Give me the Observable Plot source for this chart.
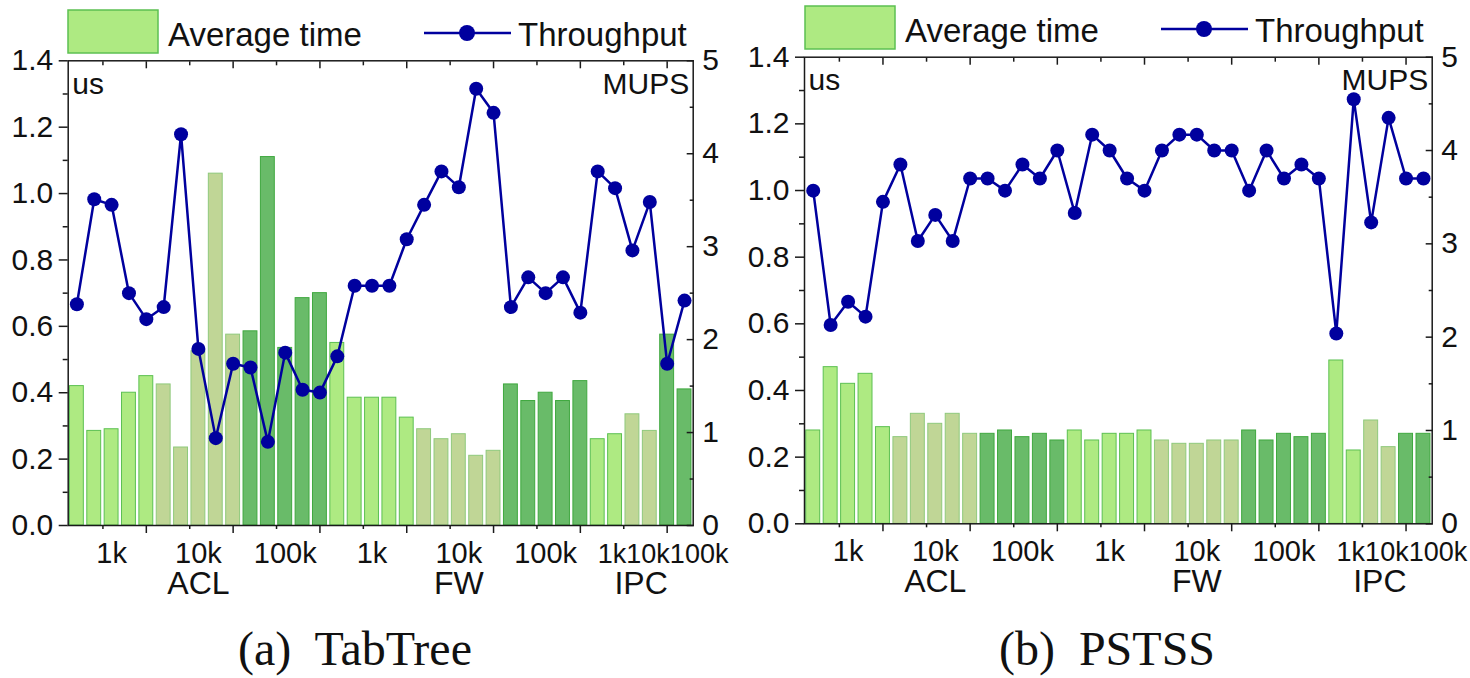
<!DOCTYPE html>
<html>
<head>
<meta charset="utf-8">
<script src="https://cdn.jsdelivr.net/npm/d3@7"></script>
<script src="https://cdn.jsdelivr.net/npm/@observablehq/plot@0.6"></script>
<style>
  body { margin: 0; background: #fff; }
  #wrap { position: relative; width: 1470px; height: 678px; overflow: hidden; background: #fff; }
  .chart { position: absolute; top: 0; }
  #overlay { position: absolute; left: 0; top: 0; pointer-events: none; }
</style>
</head>
<body>
<div id="wrap"></div>
<script>
// ---------- data ----------
const workloads = ["ACL", "FW", "IPC"];
const sizes = ["1k", "10k", "100k"];
const runsPerSize = [5, 5, 2]; // bars per size, per workload

const legendLabels = ["Average time", "Throughput"];
const unitLeft = "us";
const unitRight = "MUPS";
const captions = ["(a)  TabTree", "(b)  PSTSS"];

const timeTicks = [0, 0.2, 0.4, 0.6, 0.8, 1.0, 1.2, 1.4];
const thrTicks = [0, 1, 2, 3, 4, 5];

const tabtreeAvgTime = [0.42, 0.285, 0.29, 0.40, 0.45, 0.425, 0.235, 0.525, 1.06, 0.575,
  0.585, 1.11, 0.535, 0.685, 0.70, 0.55, 0.385, 0.385, 0.385, 0.325,
  0.29, 0.26, 0.275, 0.21, 0.225, 0.425, 0.375, 0.40, 0.375, 0.435,
  0.26, 0.275, 0.335, 0.285, 0.575, 0.41];
const tabtreeThroughput = [2.38, 3.51, 3.45, 2.50, 2.22, 2.35, 4.21, 1.90, 0.94, 1.74,
  1.70, 0.90, 1.86, 1.46, 1.43, 1.82, 2.58, 2.58, 2.58, 3.08,
  3.45, 3.81, 3.64, 4.70, 4.44, 2.35, 2.67, 2.50, 2.67, 2.29,
  3.81, 3.63, 2.96, 3.48, 1.74, 2.42];

const pstssAvgTime = [0.28, 0.47, 0.42, 0.45, 0.29, 0.26, 0.33, 0.30, 0.33, 0.27,
  0.27, 0.28, 0.26, 0.27, 0.25, 0.28, 0.25, 0.27, 0.27, 0.28,
  0.25, 0.24, 0.24, 0.25, 0.25, 0.28, 0.25, 0.27, 0.26, 0.27,
  0.49, 0.22, 0.31, 0.23, 0.27, 0.27];
const pstssThroughput = [3.57, 2.13, 2.38, 2.22, 3.45, 3.85, 3.03, 3.31, 3.03, 3.70,
  3.70, 3.57, 3.85, 3.70, 4.00, 3.33, 4.17, 4.00, 3.70, 3.57,
  4.00, 4.17, 4.17, 4.00, 4.00, 3.57, 4.00, 3.70, 3.85, 3.70,
  2.04, 4.55, 3.23, 4.35, 3.70, 3.70];

// ---------- styles ----------
const FILL = {"1k": "#aeea82", "10k": "#c0d696", "100k": "#69bb69"};
const STROKE = {"1k": "#5cc052", "10k": "#8fc97c", "100k": "#3fa83f"};
const LINE = "#00009e";
const AXIS = "#1a1a1a";
const SANS = "Liberation Sans, Arial, sans-serif";
const SERIF = "Liberation Serif, Times New Roman, serif";

function buildRows(avg, thr) {
  const out = [];
  let i = 0;
  workloads.forEach((w, wi) => sizes.forEach(s => {
    for (let r = 0; r < runsPerSize[wi]; r++) {
      out.push({i: i + 1, workload: w, size: s, avg: avg[i], thr: thr[i]});
      i++;
    }
  }));
  return out;
}

function chart(data, m) {
  const yMax = timeTicks[timeTicks.length - 1];
  const k = yMax / thrTicks[thrTicks.length - 1];
  const n = data.length;
  const sizeGroups = d3.flatGroup(data, d => d.workload, d => d.size)
    .map(([w, s, v]) => ({workload: w, size: s, x: d3.mean(v, d => d.i)}));
  const wGroups = d3.flatGroup(data, d => d.workload)
    .map(([w, v]) => ({workload: w, x: d3.mean(v, d => d.i)}));
  const ipc = sizeGroups.filter(d => d.workload === "IPC");
  const ipcLabel = [{x: d3.mean(ipc, d => d.x), text: ipc.map(d => d.size).join("")}];
  const majorX = d3.range(5, n, 5);
  const minorX = d3.range(2.5, n, 5);
  const minorY = d3.range(0.1, yMax, 0.2);
  const minorR = d3.range(0.5, 5, 1).map(v => v * k);
  const ax = {stroke: AXIS, strokeWidth: 1.5, label: null};
  return Plot.plot({
    width: 735, height: 610,
    marginLeft: m.left, marginRight: m.right, marginTop: m.top, marginBottom: m.bottom,
    x: {domain: [0.5, n + 0.5]},
    y: {domain: [0, yMax]},
    style: {fontFamily: SANS, fontSize: "30px", color: "#111", background: "transparent", overflow: "visible"},
    marks: [
      Plot.rect(data, {x1: d => d.i - 0.4, x2: d => d.i + 0.4, y1: 0, y2: "avg",
        fill: d => FILL[d.size], stroke: d => STROKE[d.size], strokeWidth: 1}),
      Plot.line(data, {x: "i", y: d => d.thr * k, stroke: LINE, strokeWidth: 2.5}),
      Plot.dot(data, {x: "i", y: d => d.thr * k, r: 7, fill: LINE, stroke: "none"}),
      Plot.frame({stroke: AXIS, strokeWidth: 1.5}),
      // left axis
      Plot.axisY({...ax, ticks: timeTicks, tickSize: 9, tickPadding: 6, tickFormat: d3.format(".1f"), fontSize: 30, fill: "#111"}),
      Plot.axisY({...ax, ticks: minorY, tickSize: 5, fill: "none"}),
      // right axis
      Plot.axisY({...ax, anchor: "right", ticks: thrTicks.map(v => v * k), tickSize: -7, fill: "none"}),
      Plot.axisY({...ax, anchor: "right", ticks: minorR, tickSize: -4, fill: "none"}),
      Plot.axisY({...ax, anchor: "right", ticks: thrTicks.map(v => v * k), tickSize: 0, tickPadding: 9,
        tickFormat: d => Math.round(d / k), fontSize: 30, fill: "#111"}),
      // bottom / top ticks
      Plot.axisX({...ax, ticks: majorX, tickSize: 8, fill: "none"}),
      Plot.axisX({...ax, ticks: minorX, tickSize: 4, fill: "none"}),
      Plot.axisX({...ax, anchor: "top", ticks: majorX, tickSize: -7, fill: "none"}),
      Plot.axisX({...ax, anchor: "top", ticks: minorX, tickSize: -4, fill: "none"}),
      // category labels
      Plot.text(sizeGroups.filter(d => d.workload !== "IPC"), {x: "x", text: "size", frameAnchor: "bottom",
        lineAnchor: "bottom", dy: 37, fontSize: 29, fill: "#111"}),
      Plot.text(ipcLabel, {x: "x", text: "text", frameAnchor: "bottom",
        lineAnchor: "bottom", dy: 37, dx: 22, fontSize: 27, fill: "#111"}),
      Plot.text(wGroups, {x: "x", text: "workload", frameAnchor: "bottom",
        lineAnchor: "bottom", dy: 68, fontSize: 32, fill: "#111"}),
      // units
      Plot.text([unitLeft], {frameAnchor: "top-left", textAnchor: "start", lineAnchor: "bottom",
        dx: 4, dy: 33, fontSize: 30, fill: "#111"}),
      Plot.text([unitRight], {frameAnchor: "top-right", textAnchor: "end", lineAnchor: "bottom",
        dx: -4, dy: 33, fontSize: 30, fill: "#111"})
    ]
  });
}

const wrap = document.getElementById("wrap");
const left = chart(buildRows(tabtreeAvgTime, tabtreeThroughput), {left: 67.7, right: 42.3, top: 60.3, bottom: 85});
left.classList.add("chart"); left.style.left = "0px";
wrap.appendChild(left);
const right = chart(buildRows(pstssAvgTime, pstssThroughput), {left: 69, right: 38.3, top: 56.7, bottom: 86.7});
right.classList.add("chart"); right.style.left = "735px";
wrap.appendChild(right);

// legends + captions
function legendSvg(ox, oy) {
  return `<g transform="translate(${ox},${oy})">
    <rect x="68" y="10" width="90" height="43" fill="${FILL["1k"]}" stroke="${STROKE["1k"]}" stroke-width="1.5"/>
    <text x="168" y="46" font-family="${SANS}" font-size="33" fill="#111">${legendLabels[0]}</text>
    <line x1="424" x2="511" y1="33" y2="33" stroke="${LINE}" stroke-width="2.5"/>
    <circle cx="467" cy="33" r="8" fill="${LINE}"/>
    <text x="518" y="46" font-family="${SANS}" font-size="33" fill="#111">${legendLabels[1]}</text>
  </g>`;
}
const overlay = document.createElementNS("http://www.w3.org/2000/svg", "svg");
overlay.setAttribute("id", "overlay");
overlay.setAttribute("width", 1470);
overlay.setAttribute("height", 678);
overlay.innerHTML = legendSvg(0, 0) + legendSvg(737, -4) +
  `<text x="355" y="665" text-anchor="middle" font-family="${SERIF}" font-size="48" fill="#111" xml:space="preserve">${captions[0]}</text>
   <text x="1107" y="665" text-anchor="middle" font-family="${SERIF}" font-size="48" fill="#111" xml:space="preserve">${captions[1]}</text>`;
wrap.appendChild(overlay);
</script>
</body>
</html>
